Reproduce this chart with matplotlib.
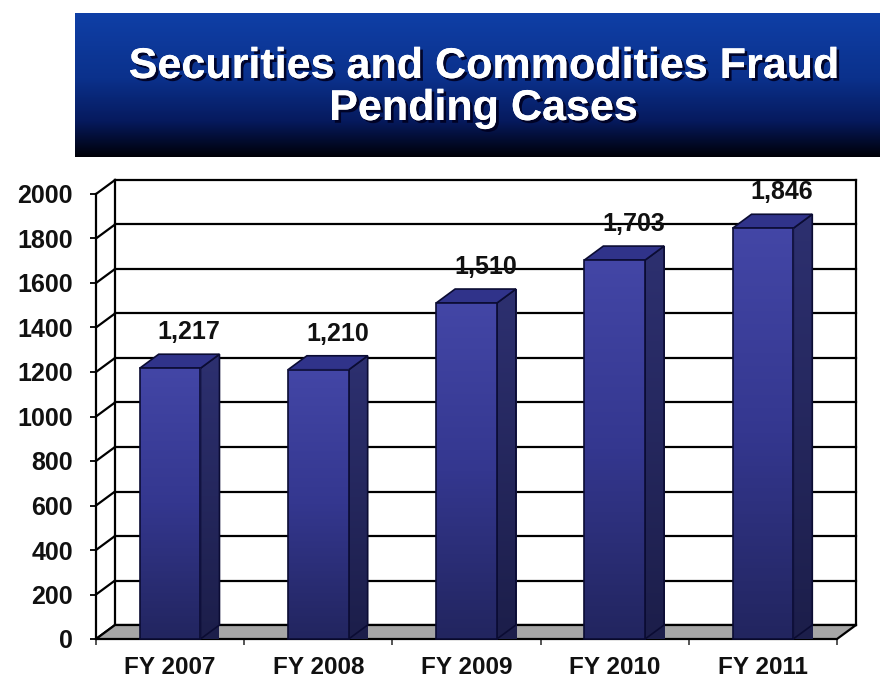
import numpy as np
import matplotlib
matplotlib.use("Agg")
import matplotlib.pyplot as plt
from matplotlib.patches import Polygon, Rectangle
from matplotlib.colors import LinearSegmentedColormap
import matplotlib.patheffects as pe

# ---- data ----
categories = ["FY 2007", "FY 2008", "FY 2009", "FY 2010", "FY 2011"]
values = [1217, 1210, 1510, 1703, 1846]
value_labels = ["1,217", "1,210", "1,510", "1,703", "1,846"]
y_ticks = [0, 200, 400, 600, 800, 1000, 1200, 1400, 1600, 1800, 2000]
title_lines = ["Securities and Commodities Fraud", "Pending Cases"]

W, H = 880, 683
fig = plt.figure(figsize=(W / 100, H / 100), dpi=100)
fig.patch.set_facecolor("white")
FONT = "Liberation Sans"

# ---- title banner ----
bx0, bx1, by0, by1 = 75, 880, 13, 157
bax = fig.add_axes([bx0 / W, 1 - by1 / H, (bx1 - bx0) / W, (by1 - by0) / H])
bax.set_axis_off()
banner_cmap = LinearSegmentedColormap.from_list(
    "banner", [(0.0, "#0f3fa6"), (0.45, "#0b318c"), (0.75, "#061a5e"), (1.0, "#000008")])
grad = np.linspace(0, 1, 256).reshape(-1, 1)
bax.imshow(grad, cmap=banner_cmap, aspect="auto", extent=[0, 1, 0, 1], origin="upper")
bax.set_xlim(0, 1)
bax.set_ylim(0, 1)
shadow = [pe.withSimplePatchShadow(offset=(2, -2), shadow_rgbFace="#000020", alpha=0.9), pe.Normal()]
fig.text(483 / W, 1 - 67 / H, title_lines[0], ha="center", va="center", color="white",
         fontsize=31, fontweight="bold", family=FONT, path_effects=shadow)
fig.text(483 / W, 1 - 109 / H, title_lines[1], ha="center", va="center", color="white",
         fontsize=31, fontweight="bold", family=FONT, path_effects=shadow)

# ---- chart axes (front plane) ----
x0p, x1p, y0p, y1p = 96, 837, 639, 194
ax = fig.add_axes([x0p / W, 1 - y0p / H, (x1p - x0p) / W, (y0p - y1p) / H])
n = len(categories)
ymax = y_ticks[-1]
ax.set_xlim(0, n)
ax.set_ylim(0, ymax)
ax.set_facecolor("none")
for s in ["top", "right", "bottom"]:
    ax.spines[s].set_visible(False)
ax.spines["left"].set_linewidth(1.6)
ax.spines["left"].set_color("black")

# depth offset in data units (px -> data)
px_x = n / (x1p - x0p)
px_y = ymax / (y0p - y1p)
DX = 19 * px_x
DY = 14 * px_y

LW = 1.6
# back wall gridlines and left-wall diagonals
for t in y_ticks:
    ax.plot([DX, n + DX], [t + DY, t + DY], color="black", lw=LW, clip_on=False, zorder=1)
    ax.plot([0, DX], [t, t + DY], color="black", lw=LW, clip_on=False, zorder=1)
ax.plot([DX, DX], [DY, ymax + DY], color="black", lw=LW, clip_on=False, zorder=1)
ax.plot([n + DX, n + DX], [DY, ymax + DY], color="black", lw=LW, clip_on=False, zorder=1)

# floor
floor = Polygon([[0, 0], [n, 0], [n + DX, DY], [DX, DY]], closed=True,
                facecolor="#a6a6a6", edgecolor="black", lw=LW, clip_on=False, zorder=2)
ax.add_patch(floor)

# bars
bw = 0.41
front_cmap = LinearSegmentedColormap.from_list("front", ["#4346a6", "#34378f", "#22255f"])
side_cmap = LinearSegmentedColormap.from_list("side", ["#2d3070", "#1c1e4a"])
edge = "#0b0c33"
for i, v in enumerate(values):
    xl = i + 0.5 - bw / 2
    xr = i + 0.5 + bw / 2
    # side face
    side = Polygon([[xr, 0], [xr + DX, DY], [xr + DX, v + DY], [xr, v]], closed=True,
                   facecolor="none", edgecolor=edge, lw=1.2, clip_on=False, zorder=4)
    ax.add_patch(side)
    im = ax.imshow(np.linspace(0, 1, 128).reshape(-1, 1), cmap=side_cmap, aspect="auto",
                   extent=[xr, xr + DX, 0, v + DY], origin="upper", zorder=3, clip_on=False)
    im.set_clip_path(side)
    # top face
    top = Polygon([[xl, v], [xr, v], [xr + DX, v + DY], [xl + DX, v + DY]], closed=True,
                  facecolor="#30338a", edgecolor=edge, lw=1.2, clip_on=False, zorder=4)
    ax.add_patch(top)
    # front face
    front = Rectangle((xl, 0), bw, v, facecolor="none", edgecolor=edge, lw=1.2,
                      clip_on=False, zorder=5)
    ax.add_patch(front)
    imf = ax.imshow(np.linspace(0, 1, 128).reshape(-1, 1), cmap=front_cmap, aspect="auto",
                    extent=[xl, xr, 0, v], origin="upper", zorder=4.5, clip_on=False)
    imf.set_clip_path(front)
    # value label
    ax.text(i + 0.5 + DX, v + DY + 100, value_labels[i], ha="center", va="center",
            fontsize=18, fontweight="bold", family=FONT, color="#111111", zorder=6)

ax.set_xlim(0, n)
ax.set_ylim(0, ymax)

# ticks
ax.set_yticks(y_ticks)
ax.set_yticklabels([str(t) for t in y_ticks], fontsize=18, fontweight="bold", family=FONT)
ax.tick_params(axis="y", direction="out", length=4.5, width=1.4, pad=12, colors="#111111")
ax.set_xticks(np.arange(n + 1))
ax.set_xticklabels([""] * (n + 1))
ax.tick_params(axis="x", which="major", direction="out", length=4.5, width=1.4, color="#555555")
ax.set_xticks(np.arange(n) + 0.5, minor=True)
ax.set_xticklabels(categories, minor=True, fontsize=17.5, fontweight="bold", family=FONT,
                   color="#111111")
ax.tick_params(axis="x", which="minor", length=0, pad=12)

fig.savefig("out.png", dpi=100, facecolor="white")
